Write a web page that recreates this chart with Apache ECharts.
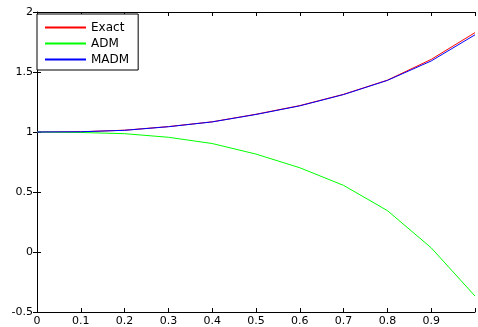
<!DOCTYPE html>
<html><head><meta charset="utf-8">
<script src="https://cdn.jsdelivr.net/npm/echarts@6/dist/echarts.min.js"></script>
<style>html,body{margin:0;padding:0;background:#fff}#c{width:478px;height:327px}</style>
</head><body><div id="c"></div>
<script>
const xs = [0, 0.1, 0.2, 0.3, 0.4, 0.5, 0.6, 0.7, 0.8, 0.9, 1.0];
const exact = [1.0, 1.002, 1.015, 1.045, 1.085, 1.148, 1.22, 1.314, 1.432, 1.605, 1.828];
const adm = [1.0, 0.996, 0.986, 0.956, 0.904, 0.816, 0.702, 0.555, 0.345, 0.035, -0.367];
const madm = [1.0, 1.002, 1.014, 1.044, 1.084, 1.146, 1.218, 1.312, 1.43, 1.592, 1.81];
const seriesNames = ['Exact', 'ADM', 'MADM'];
const seriesColors = ['#ff0000', '#00ff00', '#0000ff'];
const seriesData = [exact, adm, madm];

const chart = echarts.init(document.getElementById('c'), null, {renderer: 'canvas'});
const font = {fontFamily: 'DejaVu Sans', fontSize: 11, color: '#000'};
const axisLine = {show: true, onZero: false, lineStyle: {color: '#000', width: 1}};
const tick = {show: true, inside: true, length: 4, lineStyle: {color: '#000'}};
chart.setOption({
  animation: false,
  grid: {left: 37, right: 0, top: 12, bottom: 15, containLabel: false},
  legend: {
    orient: 'vertical', left: 37, top: 14,
    data: seriesNames.map((n, i) => ({name: n, icon: 'rect', itemStyle: {color: seriesColors[i], borderWidth: 0}})),
    itemWidth: 41, itemHeight: 2, itemGap: 3,
    padding: [7, 9, 4, 8],
    borderColor: '#000', borderWidth: 1, backgroundColor: '#fff',
    textStyle: {fontFamily: 'DejaVu Sans', fontSize: 12, color: '#000', lineHeight: 13}
  },
  xAxis: [{
    type: 'value', min: 0, max: 1, interval: 0.1, position: 'bottom',
    axisLine: axisLine, axisTick: tick, splitLine: {show: false},
    axisLabel: Object.assign({margin: 4, formatter: v => (v >= 0.999 ? '' : String(+v.toFixed(1)))}, font)
  }, {
    type: 'value', min: 0, max: 1, interval: 0.1, position: 'top',
    axisLine: axisLine, axisTick: tick, splitLine: {show: false}, axisLabel: {show: false}
  }],
  yAxis: [{
    type: 'value', min: -0.5, max: 2, interval: 0.5, position: 'left',
    axisLine: axisLine, axisTick: tick, splitLine: {show: false},
    axisLabel: Object.assign({margin: 4, formatter: v => String(v)}, font)
  }, {
    type: 'value', min: -0.5, max: 2, interval: 0.5, position: 'right',
    axisLine: {show: false}, axisTick: tick, splitLine: {show: false}, axisLabel: {show: false}
  }],
  series: seriesNames.map((n, i) => ({
    name: n, type: 'line', symbol: 'none', showSymbol: false,
    data: xs.map((x, j) => [x, seriesData[i][j]]),
    lineStyle: {color: seriesColors[i], width: 1},
    itemStyle: {color: seriesColors[i]},
    xAxisIndex: 0, yAxisIndex: 0
  }))
});
</script></body></html>
